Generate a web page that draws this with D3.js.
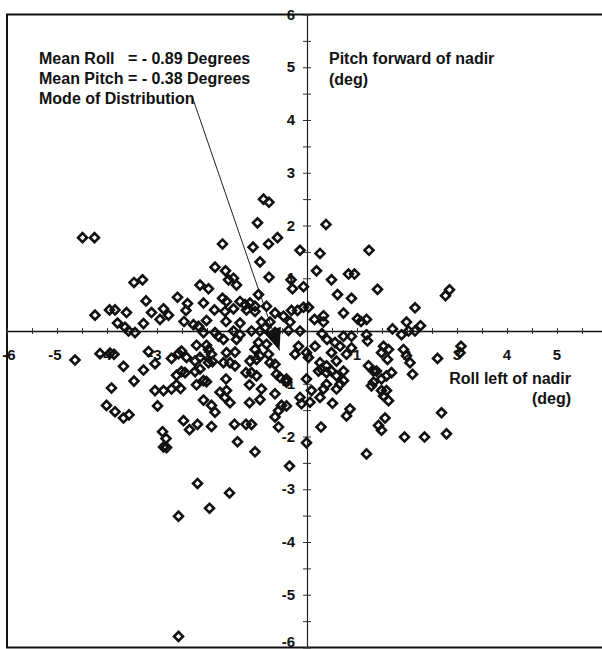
<!DOCTYPE html>
<html>
<head>
<meta charset="utf-8">
<script src="https://cdn.jsdelivr.net/npm/d3@7"></script>
<style>
  body { margin: 0; background: #fff; }
  svg text { font-family: "Liberation Sans", Arial, sans-serif; font-weight: bold; fill: #111; }
</style>
</head>
<body>
<div id="chart"></div>
<script>
// roll left of nadir (deg) / pitch forward of nadir (deg)
const rollDeg = [
  -4.49,-4.25,-0.87,-0.76,-0.99,-1.69,-1.08,-0.77,-0.59,-0.14,0.26,0.38,1.24,-0.94,-1.84,-1.63,-1.57,-1.47,-1.41,-3.46,
  -3.29,-2.14,-1.97,-0.97,-2.59,-3.22,-1.69,-1.61,-0.76,-0.32,-0.29,-0.07,0.19,0.49,0.83,0.95,1.41,0.61,0.89,2.77,
  2.85,-1.34,-1.24,-1.14,-1.04,-1.21,-2.39,-2.42,-2.46,-2.07,-1.85,-1.64,-1.47,-4.24,-3.95,-3.84,-3.61,-3.11,-2.87,-2.77,
  -2.94,-1.62,-1.34,-3.79,-3.64,-3.57,-3.44,-3.27,-2.27,-2.17,-2.01,-2.07,-1.84,-1.77,-1.47,-1.34,-1.11,-0.94,-1.04,-0.81,
  -0.64,-0.47,-0.31,-0.19,-0.07,0.03,0.73,2.16,0.15,0.33,0.33,1.01,1.08,1.19,1.99,2.27,1.71,-0.91,-0.74,-0.84,
  -0.34,-0.37,-0.14,1.89,2.03,2.16,0.73,0.89,1.19,-0.64,0.30,0.40,1.21,0.56,0.66,0.49,0.79,0.89,-0.17,-0.01,
  -0.24,0.03,0.16,1.53,1.63,1.49,1.61,1.93,1.99,2.06,2.61,3.08,3.06,-0.97,-0.81,-1.04,-0.94,-0.77,-0.74,-0.64,
  0.26,0.29,0.39,0.39,0.49,0.23,0.59,0.73,0.59,1.23,1.33,1.39,2.11,1.69,1.59,1.49,1.33,1.29,-0.61,-0.54,
  -0.41,-0.41,-1.01,-0.01,0.73,0.66,0.59,0.39,0.33,0.26,0.09,-0.91,-0.94,-0.64,-0.14,-0.11,0.06,0.51,1.49,1.59,
  1.53,1.63,-0.51,-0.41,-0.57,-0.64,-0.57,0.86,0.79,1.56,1.43,1.49,2.69,0.28,1.95,2.35,2.79,-0.01,1.19,-0.35,
  -1.04,-4.64,-4.14,-3.94,-3.86,-3.67,-3.27,-3.46,-3.91,-3.17,-3.04,-4.01,-3.84,-3.67,-3.56,-3.04,-2.87,-2.71,-2.61,-2.53,
  -2.99,-2.71,-2.57,-2.51,-2.41,-2.24,-2.14,-2.61,-2.51,-2.44,-2.24,-2.14,-2.21,-2.01,-1.97,-1.91,-1.89,-1.97,-2.21,-2.07,
  -2.01,-1.61,-1.44,-1.67,-1.54,-1.44,-1.41,-1.67,-1.14,-1.01,-1.22,-1.11,-1.62,-1.15,-1.74,-1.61,-1.64,-1.54,-2.07,-1.91,
  -1.84,-1.15,-2.47,-2.35,-2.19,-1.91,-1.45,-1.22,-1.11,-1.39,-2.89,-2.82,-2.87,-2.81,-2.19,-1.55,-1.95,-2.57,-2.57
];
const pitchDeg = [
  1.77,1.77,2.50,2.44,2.05,1.65,1.59,1.65,1.77,1.53,1.47,2.02,1.53,1.31,1.21,1.14,0.97,1.00,0.87,0.92,
  0.97,0.87,0.80,0.69,0.64,0.57,0.62,0.56,1.02,0.97,0.80,0.84,1.14,0.97,1.08,1.08,0.79,0.69,0.62,0.67,
  0.78,0.56,0.50,0.53,0.37,0.40,0.52,0.39,0.18,0.53,0.40,0.37,0.42,0.30,0.40,0.40,0.35,0.35,0.42,0.30,
  0.22,0.18,0.15,0.15,0.07,0.00,-0.03,0.14,0.12,0.09,0.20,-0.03,-0.03,-0.10,0.00,-0.07,0.00,0.00,0.47,0.47,
  0.34,0.28,0.39,0.39,0.45,0.45,0.34,0.44,0.22,0.29,0.17,0.23,0.18,0.22,0.17,0.10,0.04,0.17,0.17,0.06,
  0.17,0.01,0.00,-0.07,0.00,0.00,-0.10,-0.10,-0.07,-0.03,-0.05,-0.16,-0.19,-0.22,-0.29,-0.41,-0.44,-0.32,-0.29,-0.41,
  -0.44,-0.50,-0.29,-0.29,-0.35,-0.41,-0.54,-0.35,-0.47,-0.60,-0.52,-0.29,-0.41,-0.22,-0.25,-0.35,-0.47,-0.44,-0.60,-0.63,
  -0.60,-0.72,-0.66,-0.79,-0.76,-0.76,-0.85,-0.76,-0.57,-0.66,-0.76,-0.76,-0.82,-0.79,-0.85,-0.91,-0.97,-1.04,-0.82,-0.88,
  -0.91,-0.97,-0.85,-0.91,-0.94,-1.01,-1.10,-1.01,-1.10,-1.26,-1.13,-1.10,-1.30,-1.19,-1.26,-1.38,-1.35,-1.37,-1.13,-1.13,
  -1.23,-1.32,-1.41,-1.42,-1.51,-1.63,-1.82,-1.48,-1.61,-1.65,-1.79,-1.88,-1.55,-1.82,-2.01,-2.01,-1.95,-2.12,-2.33,-2.56,
  -2.29,-0.55,-0.43,-0.42,-0.44,-0.67,-0.74,-0.95,-1.08,-0.39,-0.62,-1.41,-1.53,-1.65,-1.59,-1.13,-1.13,-1.10,-1.02,-1.09,
  -1.42,-0.52,-0.43,-0.38,-0.50,-0.57,-0.50,-0.84,-0.77,-0.79,-0.77,-0.72,-0.27,-0.27,-0.35,-0.44,-0.58,-0.60,-1.02,-0.94,
  -0.96,-0.41,-0.40,-0.60,-0.60,-0.66,-0.16,-0.16,-0.57,-0.54,-0.79,-0.79,-0.91,-1.02,-1.16,-1.13,-1.26,-1.36,-1.31,-1.41,
  -1.54,-1.36,-1.70,-1.87,-1.77,-1.81,-1.77,-1.77,-1.77,-2.10,-1.91,-2.04,-2.20,-2.21,-2.89,-3.07,-3.36,-3.51,-5.79
];

const xTickLabels = ["-6", "-5", "-4", "-3", "-2", "-1", "1", "2", "3", "4", "5"];
const yTickLabels = ["6", "5", "4", "3", "2", "1", "-1", "-2", "-3", "-4", "-5", "-6"];
const noteLines = ["Mean Roll   = - 0.89 Degrees", "Mean Pitch = - 0.38 Degrees", "Mode of Distribution"];
const pitchTitle = ["Pitch forward of nadir", "(deg)"];
const rollTitle = ["Roll left of nadir", "(deg)"];
const modePoint = [-0.55, -0.37];

const width = 602;
const height = 649;

const x = d3.scaleLinear().domain([-6, 6]).range([7, 607]);
const y = d3.scaleLinear().domain([-6, 6]).range([647.5, 14.5]);

const svg = d3.select("#chart")
  .append("svg")
  .attr("width", width)
  .attr("height", height);

// frame (right side falls outside the picture)
svg.append("rect")
  .attr("x", x(-6)).attr("y", y(6))
  .attr("width", x(6) - x(-6)).attr("height", y(-6) - y(6))
  .attr("fill", "none").attr("stroke", "#111").attr("stroke-width", 2);

// axes through the origin
const halfTicks = d3.range(-12, 13).map(d => d / 2);

const xAxis = svg.append("g")
  .attr("transform", `translate(0, ${y(0)})`)
  .call(d3.axisBottom(x).tickValues(halfTicks).tickFormat("").tickSizeOuter(0));
xAxis.select(".domain").attr("stroke", "#111").attr("stroke-width", 1.5);
xAxis.selectAll(".tick line").attr("y1", -3).attr("y2", 3).attr("stroke", "#333");

const yAxis = svg.append("g")
  .attr("transform", `translate(${x(0)}, 0)`)
  .call(d3.axisLeft(y).tickValues(halfTicks).tickFormat("").tickSizeOuter(0));
yAxis.select(".domain").attr("stroke", "#222").attr("stroke-width", 1.2);
yAxis.selectAll(".tick line").attr("x1", -4).attr("x2", 4).attr("stroke", "#333");

// tick labels (the -6 one sits on the frame, kept inside the picture)
svg.append("g").selectAll("text")
  .data(xTickLabels)
  .join("text")
  .attr("x", d => Math.max(x(+d) + (+d < 0 ? -2 : 0), 9))
  .attr("y", y(0) + 29)
  .attr("text-anchor", "middle")
  .style("font-size", "15px")
  .text(d => d);

svg.append("g").selectAll("text")
  .data(yTickLabels)
  .join("text")
  .attr("x", x(0) - 12)
  .attr("y", d => Math.min(y(+d) + 5, height - 2))
  .attr("text-anchor", "end")
  .style("font-size", "15px")
  .text(d => d);

// annotation leader + arrowhead
const tip = [x(modePoint[0]), y(modePoint[1])];
const start = [193, 99];
const len = Math.hypot(tip[0] - start[0], tip[1] - start[1]);
const ux = (tip[0] - start[0]) / len, uy = (tip[1] - start[1]) / len;
svg.append("line")
  .attr("x1", start[0]).attr("y1", start[1])
  .attr("x2", tip[0]).attr("y2", tip[1])
  .attr("stroke", "#222").attr("stroke-width", 1);
const bx = tip[0] - 22 * ux, by = tip[1] - 22 * uy;
svg.append("path")
  .attr("d", `M${tip[0]},${tip[1]}L${bx + 9 * uy},${by - 9 * ux}L${bx - 9 * uy},${by + 9 * ux}Z`)
  .attr("fill", "#111");

// points
const points = rollDeg.map((r, i) => ({ roll: r, pitch: pitchDeg[i] }));
svg.append("g").selectAll("path")
  .data(points)
  .join("path")
  .attr("d", d3.symbol(d3.symbolSquare, 40))
  .attr("transform", d => `translate(${x(d.roll)},${y(d.pitch)}) rotate(45)`)
  .attr("fill", "none")
  .attr("stroke", "#111")
  .attr("stroke-width", 2.6);

// text blocks
svg.append("g").selectAll("text")
  .data(noteLines)
  .join("text")
  .attr("x", 39)
  .attr("y", (d, i) => 64 + i * 20)
  .style("font-size", "16px")
  .style("white-space", "pre")
  .text(d => d);

svg.append("g").selectAll("text")
  .data(pitchTitle)
  .join("text")
  .attr("x", 329)
  .attr("y", (d, i) => 64 + i * 21)
  .style("font-size", "16px")
  .text(d => d);

svg.append("g").selectAll("text")
  .data(rollTitle)
  .join("text")
  .attr("x", 571)
  .attr("y", (d, i) => 384 + i * 20)
  .attr("text-anchor", "end")
  .style("font-size", "16px")
  .text(d => d);
</script>
</body>
</html>
